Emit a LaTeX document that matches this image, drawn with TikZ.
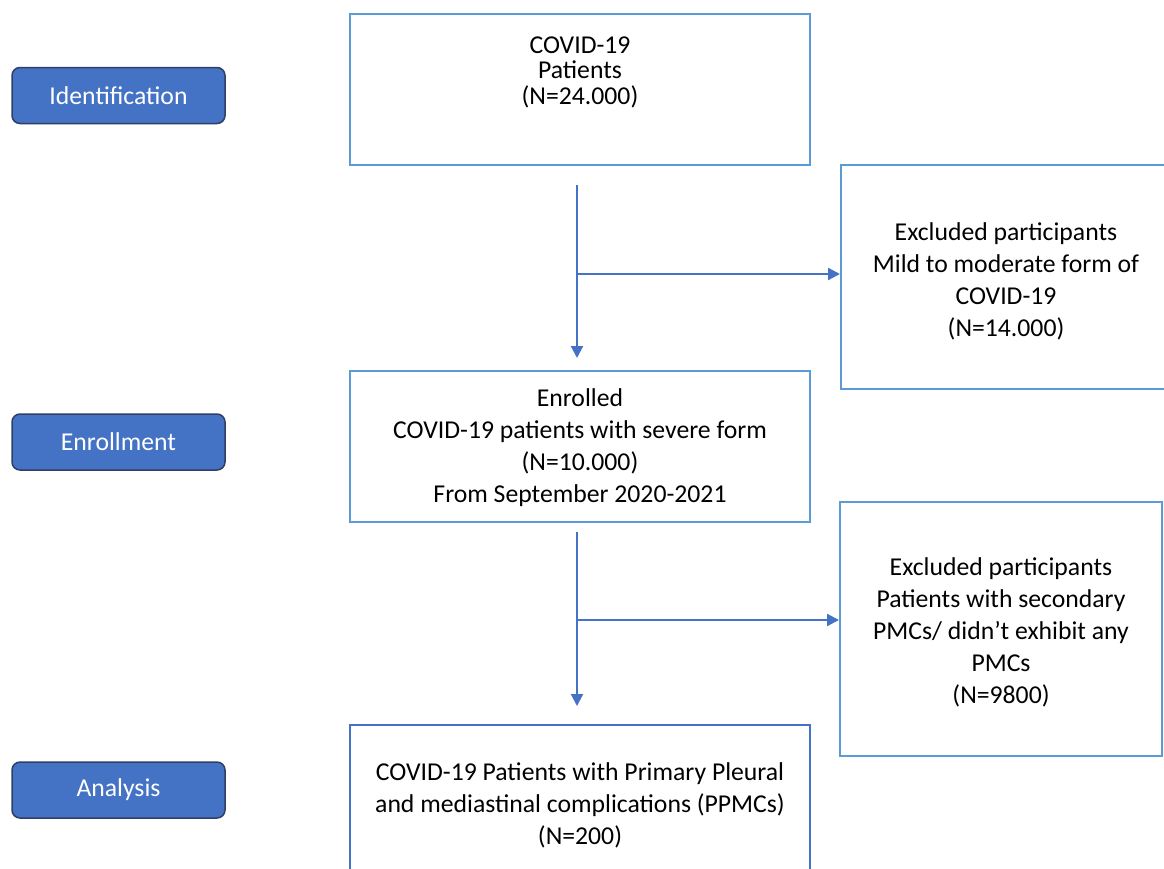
\documentclass[tikz,border=0pt]{standalone}
\usepackage{fontspec}
\setmainfont{Carlito}
\usetikzlibrary{arrows.meta}
\definecolor{boxblue}{HTML}{5B9BD5}
\definecolor{arrblue}{HTML}{4472C4}
\definecolor{lblfill}{HTML}{4472C4}
\definecolor{lbldraw}{HTML}{2F3F66}
\tikzset{
  box/.style={draw=boxblue, line width=2pt, fill=white, inner sep=0pt},
  txt/.style={align=center, font=\fontsize{25.7}{32}\selectfont, inner sep=0pt},
  lbl/.style={draw=lbldraw, fill=lblfill, line width=1.5pt, rounded corners=8pt,
    minimum width=213pt, minimum height=56pt, text=white, font=\fontsize{25.7}{30}\selectfont},
  arr/.style={draw=arrblue, line width=2.2pt, -{Triangle[width=12pt,length=12pt]}}
}
\begin{document}
\begin{tikzpicture}[x=1pt,y=-1pt]
\useasboundingbox (0,0) rectangle (1164,868);
% stage labels
\node[lbl] (lid) at (118.5,95.5) {Identification};
\node[lbl] (len) at (118.5,442) {Enrollment};
\node[lbl] (lan) at (118.5,790) {Analysis};
% main boxes
\node[box, minimum width=460pt, minimum height=151pt] (b1) at (580,89.5) {};
\node[txt, font=\fontsize{25.7}{25.5}\selectfont] (t1) at (580,72) {COVID-19\\Patients\\(N=24.000)};
\node[box, minimum width=460pt, minimum height=151pt] (b2) at (580,446.5) {};
\node[txt] (t2) at (580,448) {Enrolled\\COVID-19 patients with severe form\\(N=10.000)\\From September 2020-2021};
\node[box, draw=arrblue, minimum width=460pt, minimum height=160pt] (b3) at (580,805) {};
\node[txt] (t3) at (580,805) {COVID-19 Patients with Primary Pleural\\and mediastinal complications (PPMCs)\\(N=200)};
% excluded boxes
\node[box, minimum width=330pt, minimum height=224pt] (e1) at (1006,277) {};
\node[txt] (te1) at (1006,281) {Excluded participants\\Mild to moderate form of\\COVID-19\\(N=14.000)};
\node[box, minimum width=322pt, minimum height=254pt] (e2) at (1001,629) {};
\node[txt] (te2) at (1001,632.5) {Excluded participants\\Patients with secondary\\PMCs/ didn't exhibit any\\PMCs\\(N=9800)};
% connectors
\coordinate (a1s) at (577,185);
\coordinate (a1m) at (577,274);
\coordinate (a1e) at (577,358);
\coordinate (a2s) at (577,532);
\coordinate (a2m) at (577,620);
\coordinate (a2e) at (577,706);
\draw[arr] (a1s) -- (a1e);
\draw[arr] (a1m) -- (a1m -| e1.west);
\draw[arr] (a2s) -- (a2e);
\draw[arr] (a2m) -- (a2m -| e2.west);
\end{tikzpicture}
\end{document}
